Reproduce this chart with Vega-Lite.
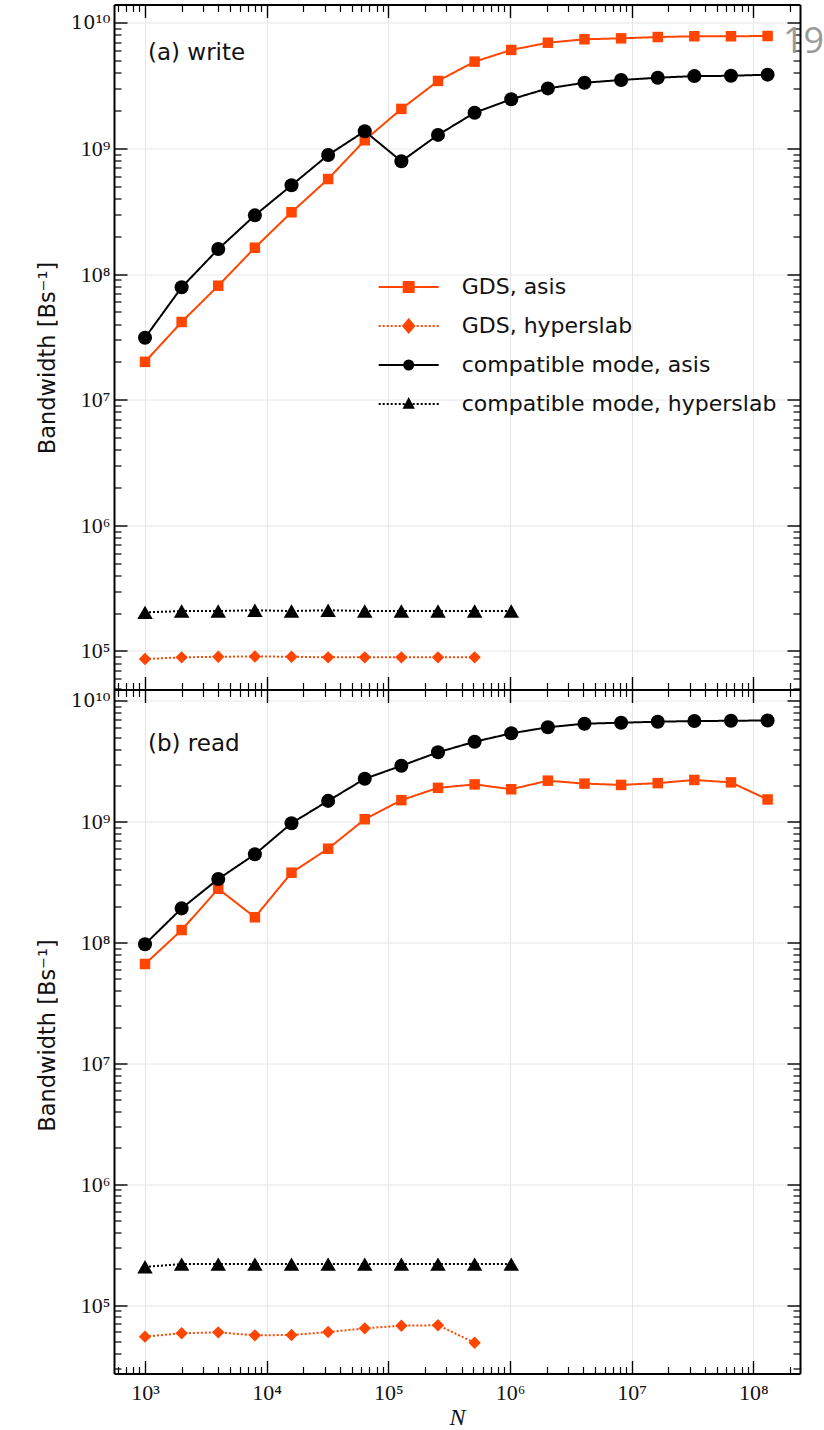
{
  "$schema": "https://vega.github.io/schema/vega-lite/v6.json",
  "autosize": {"type": "none"},
  "padding": {"left": 114, "top": 4.5, "right": 710, "bottom": 1425.5},
  "config": {"view": {"stroke": null}, "font": "DejaVu Sans"},
  "datasets": {
    "write": [
      {"series": "GDS, asis", "N": 1000, "bandwidth": 2.0e7},
      {"series": "GDS, asis", "N": 2000, "bandwidth": 4.15e7},
      {"series": "GDS, asis", "N": 4000, "bandwidth": 8.07e7},
      {"series": "GDS, asis", "N": 8000, "bandwidth": 1.62e8},
      {"series": "GDS, asis", "N": 16000, "bandwidth": 3.1e8},
      {"series": "GDS, asis", "N": 32000, "bandwidth": 5.7e8},
      {"series": "GDS, asis", "N": 64000, "bandwidth": 1.16e9},
      {"series": "GDS, asis", "N": 128000, "bandwidth": 2.06e9},
      {"series": "GDS, asis", "N": 256000, "bandwidth": 3.44e9},
      {"series": "GDS, asis", "N": 512000, "bandwidth": 4.9e9},
      {"series": "GDS, asis", "N": 1024000, "bandwidth": 6.07e9},
      {"series": "GDS, asis", "N": 2048000, "bandwidth": 6.93e9},
      {"series": "GDS, asis", "N": 4096000, "bandwidth": 7.38e9},
      {"series": "GDS, asis", "N": 8192000, "bandwidth": 7.51e9},
      {"series": "GDS, asis", "N": 16384000, "bandwidth": 7.69e9},
      {"series": "GDS, asis", "N": 32768000, "bandwidth": 7.8e9},
      {"series": "GDS, asis", "N": 65536000, "bandwidth": 7.8e9},
      {"series": "GDS, asis", "N": 131072000, "bandwidth": 7.84e9},
      {"series": "GDS, hyperslab", "N": 1000, "bandwidth": 8.63e4},
      {"series": "GDS, hyperslab", "N": 2000, "bandwidth": 8.9e4},
      {"series": "GDS, hyperslab", "N": 4000, "bandwidth": 9.0e4},
      {"series": "GDS, hyperslab", "N": 8000, "bandwidth": 9.05e4},
      {"series": "GDS, hyperslab", "N": 16000, "bandwidth": 9.0e4},
      {"series": "GDS, hyperslab", "N": 32000, "bandwidth": 8.9e4},
      {"series": "GDS, hyperslab", "N": 64000, "bandwidth": 8.9e4},
      {"series": "GDS, hyperslab", "N": 128000, "bandwidth": 8.9e4},
      {"series": "GDS, hyperslab", "N": 256000, "bandwidth": 8.9e4},
      {"series": "GDS, hyperslab", "N": 512000, "bandwidth": 8.9e4},
      {"series": "compatible mode, asis", "N": 1000, "bandwidth": 3.11e7},
      {"series": "compatible mode, asis", "N": 2000, "bandwidth": 7.84e7},
      {"series": "compatible mode, asis", "N": 4000, "bandwidth": 1.58e8},
      {"series": "compatible mode, asis", "N": 8000, "bandwidth": 2.93e8},
      {"series": "compatible mode, asis", "N": 16000, "bandwidth": 5.08e8},
      {"series": "compatible mode, asis", "N": 32000, "bandwidth": 8.85e8},
      {"series": "compatible mode, asis", "N": 64000, "bandwidth": 1.37e9},
      {"series": "compatible mode, asis", "N": 128000, "bandwidth": 7.89e8},
      {"series": "compatible mode, asis", "N": 256000, "bandwidth": 1.28e9},
      {"series": "compatible mode, asis", "N": 512000, "bandwidth": 1.92e9},
      {"series": "compatible mode, asis", "N": 1024000, "bandwidth": 2.46e9},
      {"series": "compatible mode, asis", "N": 2048000, "bandwidth": 3.0e9},
      {"series": "compatible mode, asis", "N": 4096000, "bandwidth": 3.33e9},
      {"series": "compatible mode, asis", "N": 8192000, "bandwidth": 3.5e9},
      {"series": "compatible mode, asis", "N": 16384000, "bandwidth": 3.65e9},
      {"series": "compatible mode, asis", "N": 32768000, "bandwidth": 3.76e9},
      {"series": "compatible mode, asis", "N": 65536000, "bandwidth": 3.78e9},
      {"series": "compatible mode, asis", "N": 131072000, "bandwidth": 3.86e9},
      {"series": "compatible mode, hyperslab", "N": 1000, "bandwidth": 2.03e5},
      {"series": "compatible mode, hyperslab", "N": 2000, "bandwidth": 2.08e5},
      {"series": "compatible mode, hyperslab", "N": 4000, "bandwidth": 2.08e5},
      {"series": "compatible mode, hyperslab", "N": 8000, "bandwidth": 2.11e5},
      {"series": "compatible mode, hyperslab", "N": 16000, "bandwidth": 2.08e5},
      {"series": "compatible mode, hyperslab", "N": 32000, "bandwidth": 2.11e5},
      {"series": "compatible mode, hyperslab", "N": 64000, "bandwidth": 2.08e5},
      {"series": "compatible mode, hyperslab", "N": 128000, "bandwidth": 2.08e5},
      {"series": "compatible mode, hyperslab", "N": 256000, "bandwidth": 2.08e5},
      {"series": "compatible mode, hyperslab", "N": 512000, "bandwidth": 2.08e5},
      {"series": "compatible mode, hyperslab", "N": 1024000, "bandwidth": 2.08e5}
    ],
    "read": [
      {"series": "GDS, asis", "N": 1000, "bandwidth": 6.65e7},
      {"series": "GDS, asis", "N": 2000, "bandwidth": 1.27e8},
      {"series": "GDS, asis", "N": 4000, "bandwidth": 2.79e8},
      {"series": "GDS, asis", "N": 8000, "bandwidth": 1.62e8},
      {"series": "GDS, asis", "N": 16000, "bandwidth": 3.79e8},
      {"series": "GDS, asis", "N": 32000, "bandwidth": 5.99e8},
      {"series": "GDS, asis", "N": 64000, "bandwidth": 1.05e9},
      {"series": "GDS, asis", "N": 128000, "bandwidth": 1.51e9},
      {"series": "GDS, asis", "N": 256000, "bandwidth": 1.91e9},
      {"series": "GDS, asis", "N": 512000, "bandwidth": 2.04e9},
      {"series": "GDS, asis", "N": 1024000, "bandwidth": 1.86e9},
      {"series": "GDS, asis", "N": 2048000, "bandwidth": 2.19e9},
      {"series": "GDS, asis", "N": 4096000, "bandwidth": 2.07e9},
      {"series": "GDS, asis", "N": 8192000, "bandwidth": 2.02e9},
      {"series": "GDS, asis", "N": 16384000, "bandwidth": 2.09e9},
      {"series": "GDS, asis", "N": 32768000, "bandwidth": 2.22e9},
      {"series": "GDS, asis", "N": 65536000, "bandwidth": 2.12e9},
      {"series": "GDS, asis", "N": 131072000, "bandwidth": 1.53e9},
      {"series": "GDS, hyperslab", "N": 1000, "bandwidth": 5.47e4},
      {"series": "GDS, hyperslab", "N": 2000, "bandwidth": 5.84e4},
      {"series": "GDS, hyperslab", "N": 4000, "bandwidth": 5.94e4},
      {"series": "GDS, hyperslab", "N": 8000, "bandwidth": 5.61e4},
      {"series": "GDS, hyperslab", "N": 16000, "bandwidth": 5.65e4},
      {"series": "GDS, hyperslab", "N": 32000, "bandwidth": 5.97e4},
      {"series": "GDS, hyperslab", "N": 64000, "bandwidth": 6.41e4},
      {"series": "GDS, hyperslab", "N": 128000, "bandwidth": 6.74e4},
      {"series": "GDS, hyperslab", "N": 256000, "bandwidth": 6.8e4},
      {"series": "GDS, hyperslab", "N": 512000, "bandwidth": 4.87e4},
      {"series": "compatible mode, asis", "N": 1000, "bandwidth": 9.7e7},
      {"series": "compatible mode, asis", "N": 2000, "bandwidth": 1.92e8},
      {"series": "compatible mode, asis", "N": 4000, "bandwidth": 3.36e8},
      {"series": "compatible mode, asis", "N": 8000, "bandwidth": 5.38e8},
      {"series": "compatible mode, asis", "N": 16000, "bandwidth": 9.73e8},
      {"series": "compatible mode, asis", "N": 32000, "bandwidth": 1.49e9},
      {"series": "compatible mode, asis", "N": 64000, "bandwidth": 2.27e9},
      {"series": "compatible mode, asis", "N": 128000, "bandwidth": 2.91e9},
      {"series": "compatible mode, asis", "N": 256000, "bandwidth": 3.76e9},
      {"series": "compatible mode, asis", "N": 512000, "bandwidth": 4.6e9},
      {"series": "compatible mode, asis", "N": 1024000, "bandwidth": 5.4e9},
      {"series": "compatible mode, asis", "N": 2048000, "bandwidth": 6.06e9},
      {"series": "compatible mode, asis", "N": 4096000, "bandwidth": 6.49e9},
      {"series": "compatible mode, asis", "N": 8192000, "bandwidth": 6.61e9},
      {"series": "compatible mode, asis", "N": 16384000, "bandwidth": 6.74e9},
      {"series": "compatible mode, asis", "N": 32768000, "bandwidth": 6.82e9},
      {"series": "compatible mode, asis", "N": 65536000, "bandwidth": 6.86e9},
      {"series": "compatible mode, asis", "N": 131072000, "bandwidth": 6.9e9},
      {"series": "compatible mode, hyperslab", "N": 1000, "bandwidth": 2.07e5},
      {"series": "compatible mode, hyperslab", "N": 2000, "bandwidth": 2.18e5},
      {"series": "compatible mode, hyperslab", "N": 4000, "bandwidth": 2.18e5},
      {"series": "compatible mode, hyperslab", "N": 8000, "bandwidth": 2.18e5},
      {"series": "compatible mode, hyperslab", "N": 16000, "bandwidth": 2.18e5},
      {"series": "compatible mode, hyperslab", "N": 32000, "bandwidth": 2.18e5},
      {"series": "compatible mode, hyperslab", "N": 64000, "bandwidth": 2.18e5},
      {"series": "compatible mode, hyperslab", "N": 128000, "bandwidth": 2.18e5},
      {"series": "compatible mode, hyperslab", "N": 256000, "bandwidth": 2.18e5},
      {"series": "compatible mode, hyperslab", "N": 512000, "bandwidth": 2.18e5},
      {"series": "compatible mode, hyperslab", "N": 1024000, "bandwidth": 2.18e5}
    ]
  },
  "vconcat": [
    {
      "width": 686,
      "height": 685,
      "data": {"name": "write"},
      "resolve": {"axis": {"x": "independent", "y": "independent"}},
      "layer": [
        {
          "mark": {"type": "line", "strokeWidth": 2},
          "encoding": {
            "x": {"field": "N", "type": "quantitative", "scale": {"type": "log", "domain": [556, 242000000], "nice": false},
              "axis": {"orient": "bottom", "values": [1000, 10000, 100000, 1000000, 10000000, 100000000],
                "labels": false, "ticks": false, "title": null, "grid": true, "gridColor": "#e6e6e6", "gridWidth": 1,
                "domainColor": "#000000", "domainWidth": 2}},
            "y": {"field": "bandwidth", "type": "quantitative", "scale": {"type": "log", "domain": [49385, 13960000000], "nice": false},
              "axis": {"orient": "left", "values": [1e5, 1e6, 1e7, 1e8, 1e9, 1e10], "ticks": false,
                "labelExpr": "round(log(datum.value)/LN10) >= 10 ? '10¹⁰' : '10' + substring('⁰¹²³⁴⁵⁶⁷⁸⁹', round(log(datum.value)/LN10), round(log(datum.value)/LN10) + 1)",
                "labelFont": {"condition": {"test": "datum.value > 5e9", "value": "DejaVu Serif"}, "value": "Liberation Serif"},
                "labelFontSize": {"condition": {"test": "datum.value > 5e9", "value": 19}, "value": 22},
                "labelColor": "#111111", "labelPadding": 4, "labelOverlap": false, "labelFlush": false,
                "title": "Bandwidth [Bs⁻¹]", "titleFont": "DejaVu Sans", "titleFontSize": 22.5, "titleFontWeight": "normal", "titleColor": "#111111",
                "titleX": -60, "titleY": 353, "titleBaseline": "alphabetic", "titleAngle": -90, "titleAlign": "center",
                "grid": true, "gridColor": "#e6e6e6", "gridWidth": 1,
                "domainColor": "#000000", "domainWidth": 2}},
            "color": {"field": "series", "type": "nominal",
              "scale": {"domain": ["GDS, asis", "GDS, hyperslab", "compatible mode, asis", "compatible mode, hyperslab"], "range": ["#ff4500", "#ff4500", "#000000", "#000000"]},
              "legend": {"orient": "none", "legendX": 283.7, "legendY": 271.5, "title": null, "padding": 0,
                "labelFont": "DejaVu Sans", "labelFontSize": 22, "labelColor": "#111111", "labelLimit": 500, "labelOffset": 42,
                "symbolSize": 100, "rowPadding": 17, "symbolStrokeWidth": 2,
                "encode": {"symbols": {"update": {
                  "shape": {"signal": "datum.value === 'GDS, asis' ? 'M-6,0H6M-1,-1H1V1H-1Z' : datum.value === 'GDS, hyperslab' ? 'M-6,0h0.4M-5.2,0h0.4M-4.4,0h0.4M-3.6,0h0.4M-2.8,0h0.4M-2,0h0.4M1.6,0h0.4M2.4,0h0.4M3.2,0h0.4M4,0h0.4M4.8,0h0.4M5.6,0h0.4M0,-1.3L1.1,0L0,1.3L-1.1,0Z' : datum.value === 'compatible mode, asis' ? 'M-6,0H6M-0.9,0A0.9,0.9,0,1,0,0.9,0A0.9,0.9,0,1,0,-0.9,0Z' : 'M-6,0h0.4M-5.2,0h0.4M-4.4,0h0.4M-3.6,0h0.4M-2.8,0h0.4M-2,0h0.4M-1.2,0h0.4M0.8,0h0.4M1.6,0h0.4M2.4,0h0.4M3.2,0h0.4M4,0h0.4M4.8,0h0.4M5.6,0h0.4M0,-0.95L0.9,0.75L-0.9,0.75Z'"},
                  "fill": {"signal": "indexof(datum.value, 'GDS') === 0 ? '#ff4500' : '#000000'"},
                  "stroke": {"signal": "indexof(datum.value, 'GDS') === 0 ? '#ff4500' : '#000000'"},
                  "strokeWidth": {"value": 2},
                  "opacity": {"value": 1}
                }}}}},
            "strokeDash": {"field": "series", "type": "nominal",
              "scale": {"domain": ["GDS, asis", "GDS, hyperslab", "compatible mode, asis", "compatible mode, hyperslab"], "range": [[1, 0], [2, 2], [1, 0], [2, 2]]},
              "legend": null}
          }
        },
        {
          "mark": {"type": "point", "filled": true, "opacity": 1},
          "encoding": {
            "x": {"field": "N", "type": "quantitative", "scale": {"type": "log", "domain": [556, 242000000], "nice": false},
              "axis": {"orient": "bottom", "values": [1000, 10000, 100000, 1000000, 10000000, 100000000],
                "labels": false, "domain": false, "grid": false, "title": null, "tickSize": -13, "tickColor": "#000000", "tickWidth": 1.4}},
            "y": {"field": "bandwidth", "type": "quantitative", "scale": {"type": "log", "domain": [49385, 13960000000], "nice": false},
              "axis": {"orient": "left", "values": [1e5, 1e6, 1e7, 1e8, 1e9, 1e10],
                "labels": false, "domain": false, "grid": false, "title": null, "tickSize": -13, "tickColor": "#000000", "tickWidth": 1.4}},
            "color": {"field": "series", "type": "nominal",
              "scale": {"domain": ["GDS, asis", "GDS, hyperslab", "compatible mode, asis", "compatible mode, hyperslab"], "range": ["#ff4500", "#ff4500", "#000000", "#000000"]}},
            "shape": {"field": "series", "type": "nominal",
              "scale": {"domain": ["GDS, asis", "GDS, hyperslab", "compatible mode, asis", "compatible mode, hyperslab"], "range": ["square", "diamond", "circle", "triangle-up"]},
              "legend": null},
            "size": {"field": "series", "type": "nominal",
              "scale": {"domain": ["GDS, asis", "GDS, hyperslab", "compatible mode, asis", "compatible mode, hyperslab"], "range": [110, 240, 115, 95]},
              "legend": null}
          }
        },
        {
          "data": {"values": [{}]},
          "mark": {"type": "text", "text": "(a) write", "align": "left", "baseline": "alphabetic", "font": "DejaVu Sans", "fontSize": 23, "color": "#111111"},
          "encoding": {
            "x": {"datum": 1058, "type": "quantitative", "scale": {"type": "log", "domain": [556, 242000000], "nice": false},
              "axis": {"orient": "bottom", "values": [600,700,800,900,2000,3000,4000,5000,6000,7000,8000,9000,20000,30000,40000,50000,60000,70000,80000,90000,200000,300000,400000,500000,600000,700000,800000,900000,2000000,3000000,4000000,5000000,6000000,7000000,8000000,9000000,20000000,30000000,40000000,50000000,60000000,70000000,80000000,90000000,200000000],
                "labels": false, "domain": false, "grid": false, "title": null, "tickSize": -7, "tickColor": "#000000", "tickWidth": 1.2}},
            "y": {"datum": 5050000000, "type": "quantitative", "scale": {"type": "log", "domain": [49385, 13960000000], "nice": false},
              "axis": {"orient": "left", "values": [5e4,6e4,7e4,8e4,9e4,2e5,3e5,4e5,5e5,6e5,7e5,8e5,9e5,2e6,3e6,4e6,5e6,6e6,7e6,8e6,9e6,2e7,3e7,4e7,5e7,6e7,7e7,8e7,9e7,2e8,3e8,4e8,5e8,6e8,7e8,8e8,9e8,2e9,3e9,4e9,5e9,6e9,7e9,8e9,9e9],
                "labels": false, "domain": false, "grid": false, "title": null, "tickSize": -7, "tickColor": "#000000", "tickWidth": 1.2}}
          }
        },
        {
          "data": {"values": [{}]},
          "mark": {"type": "text", "text": "19", "align": "center", "baseline": "alphabetic", "font": "Open Sans", "fontSize": 36, "color": "#9a9a9a"},
          "encoding": {
            "x": {"datum": 259000000, "type": "quantitative", "scale": {"type": "log", "domain": [556, 242000000], "nice": false},
              "axis": {"orient": "top", "values": [1000, 10000, 100000, 1000000, 10000000, 100000000],
                "labels": false, "domain": true, "domainColor": "#000000", "domainWidth": 2, "grid": false, "title": null, "tickSize": -13, "tickColor": "#000000", "tickWidth": 1.4}},
            "y": {"datum": 5740000000, "type": "quantitative", "scale": {"type": "log", "domain": [49385, 13960000000], "nice": false},
              "axis": {"orient": "right", "values": [1e5, 1e6, 1e7, 1e8, 1e9, 1e10],
                "labels": false, "domain": true, "domainColor": "#000000", "domainWidth": 2, "grid": false, "title": null, "tickSize": -13, "tickColor": "#000000", "tickWidth": 1.4}}
          }
        },
        {
          "data": {"values": [{}]},
          "mark": {"type": "text", "text": ""},
          "encoding": {
            "x": {"datum": 1000, "type": "quantitative", "scale": {"type": "log", "domain": [556, 242000000], "nice": false},
              "axis": {"orient": "top", "values": [600,700,800,900,2000,3000,4000,5000,6000,7000,8000,9000,20000,30000,40000,50000,60000,70000,80000,90000,200000,300000,400000,500000,600000,700000,800000,900000,2000000,3000000,4000000,5000000,6000000,7000000,8000000,9000000,20000000,30000000,40000000,50000000,60000000,70000000,80000000,90000000,200000000],
                "labels": false, "domain": false, "grid": false, "title": null, "tickSize": -7, "tickColor": "#000000", "tickWidth": 1.2}},
            "y": {"datum": 1e6, "type": "quantitative", "scale": {"type": "log", "domain": [49385, 13960000000], "nice": false},
              "axis": {"orient": "right", "values": [5e4,6e4,7e4,8e4,9e4,2e5,3e5,4e5,5e5,6e5,7e5,8e5,9e5,2e6,3e6,4e6,5e6,6e6,7e6,8e6,9e6,2e7,3e7,4e7,5e7,6e7,7e7,8e7,9e7,2e8,3e8,4e8,5e8,6e8,7e8,8e8,9e8,2e9,3e9,4e9,5e9,6e9,7e9,8e9,9e9],
                "labels": false, "domain": false, "grid": false, "title": null, "tickSize": -7, "tickColor": "#000000", "tickWidth": 1.2}}
          }
        }
      ]
    },
    {
      "width": 686,
      "height": 684,
      "data": {"name": "read"},
      "resolve": {"axis": {"x": "independent", "y": "independent"}},
      "layer": [
        {
          "mark": {"type": "line", "strokeWidth": 2},
          "encoding": {
            "x": {"field": "N", "type": "quantitative", "scale": {"type": "log", "domain": [556, 242000000], "nice": false},
              "axis": {"orient": "bottom", "values": [1000, 10000, 100000, 1000000, 10000000, 100000000], "ticks": false,
                "labelExpr": "'10' + substring('⁰¹²³⁴⁵⁶⁷⁸⁹', round(log(datum.value)/LN10), round(log(datum.value)/LN10) + 1)",
                "labelFont": "Liberation Serif", "labelFontSize": 22, "labelColor": "#111111", "labelPadding": 9, "labelOverlap": false, "labelFlush": false,
                "title": "N", "titleFont": "Liberation Serif", "titleFontStyle": "italic", "titleFontWeight": "normal", "titleFontSize": 24, "titleColor": "#111111",
                "titleY": 51, "titleBaseline": "alphabetic",
                "grid": true, "gridColor": "#e6e6e6", "gridWidth": 1,
                "domainColor": "#000000", "domainWidth": 2}},
            "y": {"field": "bandwidth", "type": "quantitative", "scale": {"type": "log", "domain": [27100, 12450000000], "nice": false},
              "axis": {"orient": "left", "values": [1e5, 1e6, 1e7, 1e8, 1e9, 1e10], "ticks": false,
                "labelExpr": "round(log(datum.value)/LN10) >= 10 ? '10¹⁰' : '10' + substring('⁰¹²³⁴⁵⁶⁷⁸⁹', round(log(datum.value)/LN10), round(log(datum.value)/LN10) + 1)",
                "labelFont": {"condition": {"test": "datum.value > 5e9", "value": "DejaVu Serif"}, "value": "Liberation Serif"},
                "labelFontSize": {"condition": {"test": "datum.value > 5e9", "value": 19}, "value": 22},
                "labelColor": "#111111", "labelPadding": 4, "labelOverlap": false, "labelFlush": false,
                "title": "Bandwidth [Bs⁻¹]", "titleFont": "DejaVu Sans", "titleFontSize": 22.5, "titleFontWeight": "normal", "titleColor": "#111111",
                "titleX": -60, "titleY": 345.5, "titleBaseline": "alphabetic", "titleAngle": -90, "titleAlign": "center",
                "grid": true, "gridColor": "#e6e6e6", "gridWidth": 1,
                "domainColor": "#000000", "domainWidth": 2}},
            "color": {"field": "series", "type": "nominal",
              "scale": {"domain": ["GDS, asis", "GDS, hyperslab", "compatible mode, asis", "compatible mode, hyperslab"], "range": ["#ff4500", "#ff4500", "#000000", "#000000"]},
              "legend": null},
            "strokeDash": {"field": "series", "type": "nominal",
              "scale": {"domain": ["GDS, asis", "GDS, hyperslab", "compatible mode, asis", "compatible mode, hyperslab"], "range": [[1, 0], [2, 2], [1, 0], [2, 2]]},
              "legend": null}
          }
        },
        {
          "mark": {"type": "point", "filled": true, "opacity": 1},
          "encoding": {
            "x": {"field": "N", "type": "quantitative", "scale": {"type": "log", "domain": [556, 242000000], "nice": false},
              "axis": {"orient": "bottom", "values": [1000, 10000, 100000, 1000000, 10000000, 100000000],
                "labels": false, "domain": false, "grid": false, "title": null, "tickSize": -13, "tickColor": "#000000", "tickWidth": 1.4}},
            "y": {"field": "bandwidth", "type": "quantitative", "scale": {"type": "log", "domain": [27100, 12450000000], "nice": false},
              "axis": {"orient": "left", "values": [1e5, 1e6, 1e7, 1e8, 1e9, 1e10],
                "labels": false, "domain": false, "grid": false, "title": null, "tickSize": -13, "tickColor": "#000000", "tickWidth": 1.4}},
            "color": {"field": "series", "type": "nominal",
              "scale": {"domain": ["GDS, asis", "GDS, hyperslab", "compatible mode, asis", "compatible mode, hyperslab"], "range": ["#ff4500", "#ff4500", "#000000", "#000000"]},
              "legend": null},
            "shape": {"field": "series", "type": "nominal",
              "scale": {"domain": ["GDS, asis", "GDS, hyperslab", "compatible mode, asis", "compatible mode, hyperslab"], "range": ["square", "diamond", "circle", "triangle-up"]},
              "legend": null},
            "size": {"field": "series", "type": "nominal",
              "scale": {"domain": ["GDS, asis", "GDS, hyperslab", "compatible mode, asis", "compatible mode, hyperslab"], "range": [110, 240, 115, 95]},
              "legend": null}
          }
        },
        {
          "data": {"values": [{}]},
          "mark": {"type": "text", "text": "(b) read", "align": "left", "baseline": "alphabetic", "font": "DejaVu Sans", "fontSize": 23, "color": "#111111"},
          "encoding": {
            "x": {"datum": 1058, "type": "quantitative", "scale": {"type": "log", "domain": [556, 242000000], "nice": false},
              "axis": {"orient": "bottom", "values": [600,700,800,900,2000,3000,4000,5000,6000,7000,8000,9000,20000,30000,40000,50000,60000,70000,80000,90000,200000,300000,400000,500000,600000,700000,800000,900000,2000000,3000000,4000000,5000000,6000000,7000000,8000000,9000000,20000000,30000000,40000000,50000000,60000000,70000000,80000000,90000000,200000000],
                "labels": false, "domain": false, "grid": false, "title": null, "tickSize": -7, "tickColor": "#000000", "tickWidth": 1.2}},
            "y": {"datum": 3820000000, "type": "quantitative", "scale": {"type": "log", "domain": [27100, 12450000000], "nice": false},
              "axis": {"orient": "left", "values": [3e4,4e4,5e4,6e4,7e4,8e4,9e4,2e5,3e5,4e5,5e5,6e5,7e5,8e5,9e5,2e6,3e6,4e6,5e6,6e6,7e6,8e6,9e6,2e7,3e7,4e7,5e7,6e7,7e7,8e7,9e7,2e8,3e8,4e8,5e8,6e8,7e8,8e8,9e8,2e9,3e9,4e9,5e9,6e9,7e9,8e9,9e9],
                "labels": false, "domain": false, "grid": false, "title": null, "tickSize": -7, "tickColor": "#000000", "tickWidth": 1.2}}
          }
        },
        {
          "data": {"values": [{}]},
          "mark": {"type": "text", "text": ""},
          "encoding": {
            "x": {"datum": 1000, "type": "quantitative", "scale": {"type": "log", "domain": [556, 242000000], "nice": false},
              "axis": {"orient": "top", "values": [1000, 10000, 100000, 1000000, 10000000, 100000000],
                "labels": false, "domain": true, "domainColor": "#000000", "domainWidth": 2, "grid": false, "title": null, "tickSize": -13, "tickColor": "#000000", "tickWidth": 1.4}},
            "y": {"datum": 1e6, "type": "quantitative", "scale": {"type": "log", "domain": [27100, 12450000000], "nice": false},
              "axis": {"orient": "right", "values": [1e5, 1e6, 1e7, 1e8, 1e9, 1e10],
                "labels": false, "domain": true, "domainColor": "#000000", "domainWidth": 2, "grid": false, "title": null, "tickSize": -13, "tickColor": "#000000", "tickWidth": 1.4}}
          }
        },
        {
          "data": {"values": [{}]},
          "mark": {"type": "text", "text": ""},
          "encoding": {
            "x": {"datum": 1000, "type": "quantitative", "scale": {"type": "log", "domain": [556, 242000000], "nice": false},
              "axis": {"orient": "top", "values": [600,700,800,900,2000,3000,4000,5000,6000,7000,8000,9000,20000,30000,40000,50000,60000,70000,80000,90000,200000,300000,400000,500000,600000,700000,800000,900000,2000000,3000000,4000000,5000000,6000000,7000000,8000000,9000000,20000000,30000000,40000000,50000000,60000000,70000000,80000000,90000000,200000000],
                "labels": false, "domain": false, "grid": false, "title": null, "tickSize": -7, "tickColor": "#000000", "tickWidth": 1.2}},
            "y": {"datum": 1e6, "type": "quantitative", "scale": {"type": "log", "domain": [27100, 12450000000], "nice": false},
              "axis": {"orient": "right", "values": [3e4,4e4,5e4,6e4,7e4,8e4,9e4,2e5,3e5,4e5,5e5,6e5,7e5,8e5,9e5,2e6,3e6,4e6,5e6,6e6,7e6,8e6,9e6,2e7,3e7,4e7,5e7,6e7,7e7,8e7,9e7,2e8,3e8,4e8,5e8,6e8,7e8,8e8,9e8,2e9,3e9,4e9,5e9,6e9,7e9,8e9,9e9],
                "labels": false, "domain": false, "grid": false, "title": null, "tickSize": -7, "tickColor": "#000000", "tickWidth": 1.2}}
          }
        }
      ]
    }
  ],
  "spacing": 0,
  "bounds": "flush",
  "resolve": {"legend": {"color": "independent"}}
}
